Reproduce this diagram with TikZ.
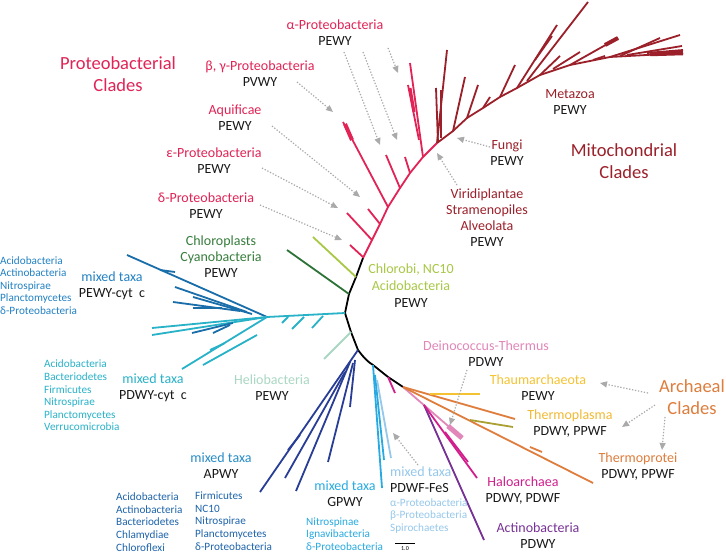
\documentclass[tikz,border=0pt]{standalone}
\usepackage{fontspec}
\setmainfont{Carlito}
\usetikzlibrary{arrows.meta}
\definecolor{protred}{RGB}{225,35,85}
\definecolor{mitored}{RGB}{155,32,42}
\definecolor{txt}{RGB}{25,25,25}
\definecolor{lime}{RGB}{168,200,70}
\definecolor{dgreen}{RGB}{45,115,55}
\definecolor{tgreen}{RGB}{55,125,60}
\definecolor{blueA}{RGB}{25,110,170}
\definecolor{tblueA}{RGB}{35,130,195}
\definecolor{cyanB}{RGB}{40,178,200}
\definecolor{helio}{RGB}{170,215,195}
\definecolor{navy}{RGB}{40,62,150}
\definecolor{tnavy}{RGB}{40,140,200}
\definecolor{lnavy}{RGB}{30,100,170}
\definecolor{gcyan}{RGB}{40,170,225}
\definecolor{lblue}{RGB}{150,200,235}
\definecolor{pink}{RGB}{225,135,185}
\definecolor{magenta2}{RGB}{210,30,140}
\definecolor{purple2}{RGB}{120,50,150}
\definecolor{orange2}{RGB}{222,125,60}
\definecolor{yellow2}{RGB}{245,195,50}
\definecolor{olive2}{RGB}{170,160,50}
\definecolor{arrgray}{RGB}{170,170,170}
\begin{document}
\begin{tikzpicture}[x=1pt,y=-1pt,
  br/.style={line width=1.8pt, line join=round},
  thk/.style={line width=4.5pt},
  arr/.style={draw=arrgray, line width=1.2pt, dash pattern=on 1.3pt off 1.7pt, -{Triangle[length=7pt,width=6pt]}},
  lab/.style={align=center, font=\fontsize{14}{16}\selectfont, inner sep=0pt, text=txt},
  big/.style={align=center, font=\fontsize{18.5}{22}\selectfont, inner sep=0pt},
  lst/.style={align=left, anchor=west, font=\fontsize{11.2}{12.6}\selectfont, inner sep=0pt},
]
\useasboundingbox (0,0) rectangle (726,553);
\fill[white] (0,0) rectangle (726,553);

% ---------- junctions ----------
\coordinate (R0) at (363,258);
\coordinate (M0) at (437,143);
\coordinate (G1) at (356,277);
\coordinate (G2) at (349,294);
\coordinate (C0) at (345,313);
\coordinate (H0) at (351,332);
\coordinate (N0) at (358,350);
\coordinate (L0) at (373,365);
\coordinate (K0) at (388,377);
\coordinate (A0) at (403,387);
\coordinate (J0) at (267,317);
\coordinate (P1) at (424,405);

% ---------- black backbone ----------
\draw[br,black] (R0) -- (G1) -- (G2) -- (C0) -- (H0) -- (N0) .. controls (364,358) and (368,362) .. (L0) -- (K0) -- (A0);

% ---------- Proteobacterial (red) ----------
\draw[br,protred] (R0) -- (372,240) -- (380,224) -- (388,207) -- (400,188) -- (410,173) -- (423,157) -- (M0);
\draw[br,protred] (363,257) -- (350,245);
\draw[br,protred] (372,240) -- (347,213);
\draw[br,protred] (380,224) -- (368,209);
\draw[br,protred] (388,207) -- (343,122);
\draw[protred,line width=4pt] (345,124) -- (352,140);
\draw[br,protred] (400,188) -- (386,155);
\draw[br,protred] (410,173) -- (405,157);
\draw[br,protred] (423,157) -- (410,63);
\draw[br,protred] (419,140) -- (408,85);
\draw[protred,line width=3pt] (410,88) -- (414,112);

% ---------- Mitochondrial (dark red) ----------
\draw[br,mitored] (M0) -- (453,131) -- (467,118) -- (483,108) -- (500,97) -- (517,88) -- (540,75) -- (570,65) -- (610,57) -- (683,53);
\draw[br,mitored] (M0) -- (447,50);
\draw[br,mitored] (438,143) -- (436,88);
\draw[br,mitored] (441,138) -- (441,90);
\draw[br,mitored] (453,131) -- (465,77);
\draw[br,mitored] (467,118) -- (478,85);
\draw[br,mitored] (483,108) -- (490,97);
\draw[br,mitored] (500,97) -- (515,65);
\draw[br,mitored] (517,88) -- (557,25);
\draw[br,mitored] (535,60) -- (552,36);
\draw[br,mitored] (527,81) -- (588,2);
\draw[br,mitored] (540,75) -- (560,56);
\draw[br,mitored] (553,69) -- (580,52);
\draw[br,mitored] (570,65) -- (618,38);
\draw[mitored,line width=4pt] (605,45) -- (618,38);
\draw[br,mitored] (593,60) -- (605,56);
\draw[br,mitored] (610,57) -- (680,35);
\draw[br,mitored] (620,56) -- (660,38);
\draw[br,mitored] (627,55) -- (682,46);
\draw[br,mitored] (647,53) -- (683,50);
\draw[mitored,line width=4.5pt] (650,54) -- (683,53);

% ---------- green ----------
\draw[br,lime] (G1) -- (313,237);
\draw[br,dgreen] (G2) -- (287,250);

% ---------- blue / cyan clade ----------
\draw[br,cyanB] (C0) -- (J0);
\draw[br,cyanB] (323,316) -- (312,328);
\draw[br,cyanB] (304,317) -- (292,329);
\draw[br,cyanB] (288,317) -- (282,323);
\draw[br,blueA] (J0) -- (127,255);
\draw[br,blueA] (160,270) -- (175,272);
\draw[br,blueA] (247,312) -- (175,287);
\draw[br,blueA] (240,311) -- (173,302);
\draw[br,blueA] (252,314) -- (193,297);
\draw[br,blueA] (222,308) -- (193,308);
\draw[br,cyanB] (J0) -- (152,328);
\draw[br,cyanB] (J0) -- (152,335);
\draw[br,blueA] (233,323) -- (192,333);
\draw[br,blueA] (230,325) -- (213,333);
\draw[br,cyanB] (J0) -- (182,369);
\draw[br,cyanB] (257,335) -- (203,365);
\draw[br,cyanB] (225,343) -- (210,350);

% ---------- Heliobacteria ----------
\draw[br,helio] (H0) -- (324,359);

% ---------- navy (APWY) ----------
\draw[br,navy] (N0) -- (260,492);
\draw[br,navy] (350,362) -- (296,491);
\draw[br,navy] (345,372) -- (285,478);
\draw[br,navy] (353,363) -- (328,462);
\draw[br,navy] (355,360) -- (350,407);
\draw[br,navy] (300,435) -- (288,450);

% ---------- GPWY / PDWF-FeS ----------
\draw[br,gcyan] (L0) -- (382,488);
\draw[br,gcyan] (375,375) -- (384,460);
\draw[br,lblue] (377,380) -- (391,458);
\draw[br,magenta2] (K0) -- (395,393);

% ---------- archaea etc ----------
\draw[br,pink] (A0) -- (462,438);
\draw[pink,line width=5pt] (448,426) -- (462,438);
\draw[br,purple2] (P1) -- (484,540);
\draw[br,magenta2] (P1) -- (477,478);
\draw[br,magenta2] (445,432) -- (468,462);
\draw[br,orange2] (A0) -- (593,483);
\draw[br,orange2] (A0) -- (515,419);
\draw[br,yellow2] (430,394) -- (480,394);
\draw[br,olive2] (470,420) -- (513,427);
\draw[br,orange2] (530,447) -- (542,452);

% ---------- scale bar ----------
\draw[line width=0.6pt] (395,543) -- (415,543);
\node[font=\fontsize{6}{7}\selectfont, inner sep=0pt] (scale) at (405,549) {1.0};

% ---------- labels ----------
\node[big,text=protred] (protclades) at (118,74) {Proteobacterial\\Clades};
\node[lab] (alpha) at (335,33) {\textcolor{protred}{α-Proteobacteria}\\PEWY};
\node[lab] (betagamma) at (260,74) {\textcolor{protred}{β, γ-Proteobacteria}\\PVWY};
\node[lab] (aquif) at (235,118) {\textcolor{protred}{Aquificae}\\PEWY};
\node[lab] (eps) at (214,161) {\textcolor{protred}{ε-Proteobacteria}\\PEWY};
\node[lab] (delta) at (206,206) {\textcolor{protred}{δ-Proteobacteria}\\PEWY};
\node[lab] (chloro) at (221,257) {\textcolor{tgreen}{Chloroplasts}\\\textcolor{tgreen}{Cyanobacteria}\\PEWY};
\node[lab] (metazoa) at (570,102) {\textcolor{mitored}{Metazoa}\\PEWY};
\node[lab] (fungi) at (507,153) {\textcolor{mitored}{Fungi}\\PEWY};
\node[lab] (virid) at (487,218) {\textcolor{mitored}{Viridiplantae}\\\textcolor{mitored}{Stramenopiles}\\\textcolor{mitored}{Alveolata}\\PEWY};
\node[big,text=mitored] (mitoclades) at (624,161) {Mitochondrial\\Clades};
\node[lab, font=\fontsize{14}{17}\selectfont] (chlorobi) at (411,286) {\textcolor{lime}{Chlorobi, NC10}\\\textcolor{lime}{Acidobacteria}\\PEWY};

\node[lst,text=tblueA] (listA) at (0,285.5) {Acidobacteria\\Actinobacteria\\Nitrospirae\\Planctomycetes\\δ-Proteobacteria};
\node[lab] (mixA) at (112,286) {\textcolor{tblueA}{mixed taxa}\\PEWY-cyt~~c};
\node[lst,text=cyanB] (listB) at (44,395.5) {Acidobacteria\\Bacteriodetes\\Firmicutes\\Nitrospirae\\Planctomycetes\\Verrucomicrobia};
\node[lab] (mixB) at (153,387.5) {\textcolor{cyanB}{mixed taxa}\\PDWY-cyt~~c};
\node[lab] (helio) at (272,387.5) {\textcolor{helio}{Heliobacteria}\\PEWY};
\node[lab] (mixN) at (221,466) {\textcolor{tnavy}{mixed taxa}\\APWY};
\node[lst,text=lnavy] (listN1) at (116,522) {Acidobacteria\\Actinobacteria\\Bacteriodetes\\Chlamydiae\\Chloroflexi};
\node[lst,text=lnavy] (listN2) at (195,521) {Firmicutes\\NC10\\Nitrospirae\\Planctomycetes\\δ-Proteobacteria};
\node[lab] (mixG) at (345,494) {\textcolor{gcyan}{mixed taxa}\\GPWY};
\node[lst,text=gcyan] (listG) at (306,534) {Nitrospinae\\Ignavibacteria\\δ-Proteobacteria};
\node[lab, align=left, anchor=west] (mixL) at (390,480) {\textcolor{lblue}{mixed taxa}\\PDWF-FeS};
\node[lst,text=lblue] (listL) at (390,516) {α-Proteobacteria\\β-Proteobacteria\\Spirochaetes};

\node[lab] (deino) at (486,353.5) {\textcolor{pink}{Deinococcus-Thermus}\\PDWY};
\node[lab] (thaum) at (538,388) {\textcolor{yellow2}{Thaumarchaeota}\\PEWY};
\node[lab] (tplasma) at (570,424) {\textcolor{yellow2!85!orange2}{Thermoplasma}\\PDWY, PPWF};
\node[lab] (tprot) at (638,466.5) {\textcolor{orange2}{Thermoprotei}\\PDWY, PPWF};
\node[lab] (halo) at (523,491) {\textcolor{magenta2}{Haloarchaea}\\PDWY, PDWF};
\node[lab] (actino) at (538,535.5) {\textcolor{purple2}{Actinobacteria}\\PDWY};
\node[big,text=orange2] (archclades) at (692,397) {Archaeal\\Clades};

% ---------- dotted arrows ----------
\draw[arr] (344,52) -- (380,145);
\draw[arr] (363,52) -- (397,140);
\draw[arr] (388,48) -- (398,73);
\draw[arr] (297,82) -- (333,112);
\draw[arr] (272,126) -- (360,197);
\draw[arr] (262,168) -- (338,208);
\draw[arr] (260,205) -- (342,240);
\draw[arr] (490,147) -- (457,138);
\draw[arr] (457,185) -- (437,153);
\draw[arr] (648,393) -- (600,383);
\draw[arr] (655,405) -- (622,427);
\draw[arr] (665,417) -- (662,450);
\draw[arr] (467,370) -- (450,425);
\draw[arr] (418,465) -- (393,433);
\end{tikzpicture}
\end{document}
